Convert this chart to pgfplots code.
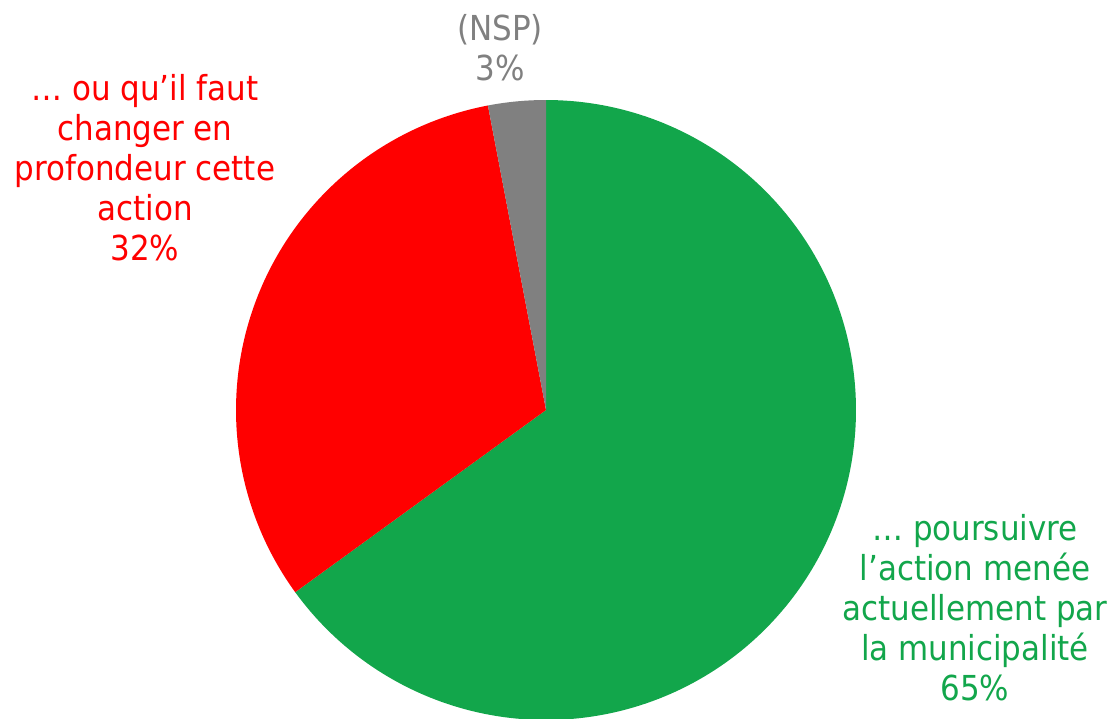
\documentclass[border=0pt]{standalone}
\usepackage{pgfplots}
\pgfplotsset{compat=1.18}
\usepackage{fontspec}
\setmainfont{DejaVu Sans Condensed}
\definecolor{pgreen}{RGB}{18,166,75}
\definecolor{pred}{RGB}{255,0,0}
\definecolor{pgray}{RGB}{128,128,128}
% shares (percent)
\def\vGreen{65}
\def\vRed{32}
\def\vGray{3}
\begin{document}
\begin{tikzpicture}
\pgfmathsetmacro{\aA}{90}
\pgfmathsetmacro{\aB}{90-3.6*\vGreen}
\pgfmathsetmacro{\aC}{\aB-3.6*\vRed}
\pgfmathsetmacro{\aD}{\aC-3.6*\vGray}
\begin{axis}[
  scale only axis, width=556.5pt, height=359pt,
  xmin=0, xmax=1113, ymin=0, ymax=718,
  hide axis, clip=true,
]
\addplot[fill=pgreen, draw=none, domain=\aB:\aA, samples=200, variable=\t]
  ({546+310*cos(\t)}, {308+310*sin(\t)}) -- (axis cs:546,308) -- cycle;
\addplot[fill=pred, draw=none, domain=\aC:\aB, samples=120, variable=\t]
  ({546+310*cos(\t)}, {308+310*sin(\t)}) -- (axis cs:546,308) -- cycle;
\addplot[fill=pgray, draw=none, domain=\aD:\aC, samples=20, variable=\t]
  ({546+310*cos(\t)}, {308+310*sin(\t)}) -- (axis cs:546,308) -- cycle;
\node[text=pgreen, align=center, font=\fontsize{17.2}{20}\selectfont] at (axis cs:975,110)
  {… poursuivre\\l’action menée\\actuellement par\\la municipalité\\\vGreen\%};
\node[text=pred, align=center, font=\fontsize{17.2}{20}\selectfont] at (axis cs:145,550)
  {… ou qu’il faut\\changer en\\profondeur cette\\action\\\vRed\%};
\node[text=pgray, align=center, font=\fontsize{17.2}{20}\selectfont] at (axis cs:500,670)
  {(NSP)\\\vGray\%};
\end{axis}
\pgfresetboundingbox
\useasboundingbox (0,0) rectangle (556.5pt,359pt);
\end{tikzpicture}
\end{document}
